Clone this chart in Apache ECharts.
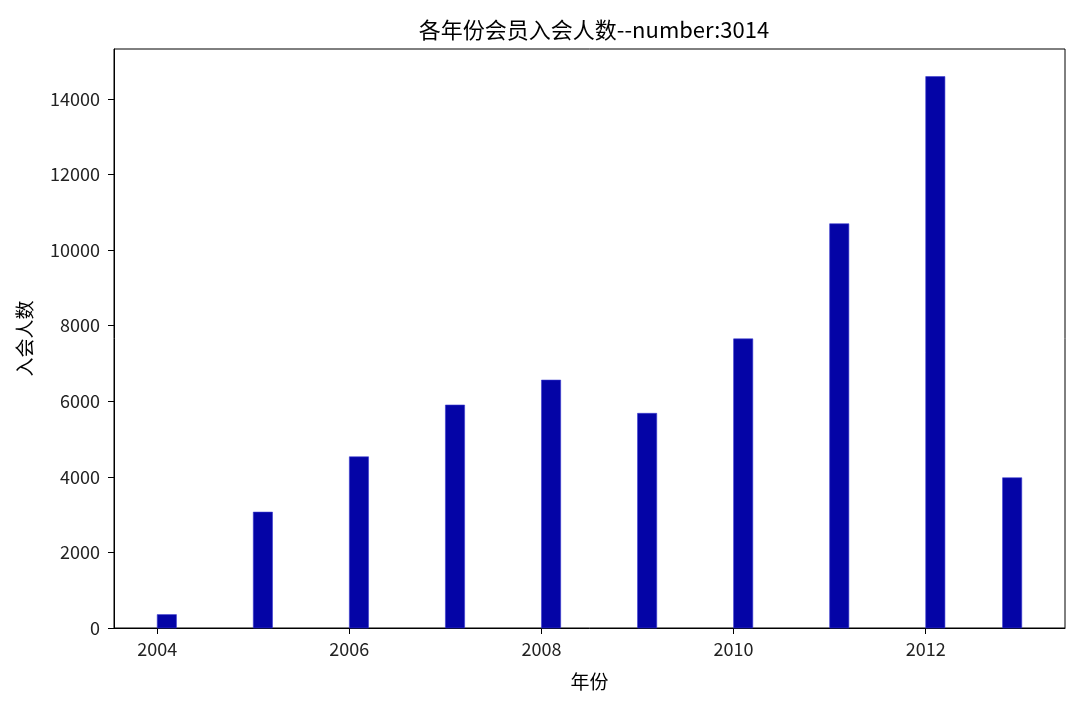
<!DOCTYPE html>
<html>
<head>
<meta charset="utf-8">
<script src="https://cdn.jsdelivr.net/npm/echarts@6/dist/echarts.min.js"></script>
<style>
html,body{margin:0;padding:0;background:#fff;}
#chart{width:1079px;height:704px;}
</style>
</head>
<body>
<div id="chart"></div>
<script>
// Bin start positions (years) and member counts
const binStarts = [2004, 2005, 2006, 2007, 2008, 2009, 2010, 2011, 2012, 2012.8];
const counts = [355, 3066, 4530, 5900, 6560, 5680, 7650, 10696, 14590, 3975];
const xTicks = [2004, 2006, 2008, 2010, 2012];
const yTicks = [0, 2000, 4000, 6000, 8000, 10000, 12000, 14000];
const titleText = '各年份会员入会人数--number:3014';
const xName = '年份';
const yName = '入会人数';

const FONT = '"Noto Sans CJK SC", "DejaVu Sans", sans-serif';
const BAR_W = 0.2;
const barData = binStarts.map((x, i) => [x, counts[i]]);

const chart = echarts.init(document.getElementById('chart'), null, {renderer: 'canvas'});
chart.setOption({
  backgroundColor: '#fff',
  animation: false,
  title: {
    text: titleText,
    left: 589, top: 14, textAlign: 'center',
    textStyle: {fontFamily: FONT, fontSize: 22, fontWeight: 'normal', color: '#000'}
  },
  grid: {
    left: 114, right: 14, top: 49, bottom: 76,
    show: true, borderColor: '#000', borderWidth: 1, backgroundColor: 'transparent'
  },
  xAxis: {
    type: 'value',
    min: 2003.55, max: 2013.45,
    name: xName, nameLocation: 'middle', nameGap: 44,
    nameTextStyle: {fontFamily: FONT, fontSize: 19, color: '#000'},
    axisLine: {show: true, onZero: false, lineStyle: {color: '#000', width: 1}},
    axisTick: {show: true, length: 6, lineStyle: {color: '#000'}, customValues: xTicks},
    axisLabel: {fontFamily: FONT, fontSize: 18, color: '#222', margin: 12, customValues: xTicks,
      formatter: v => String(v)},
    splitLine: {show: false}
  },
  yAxis: {
    type: 'value',
    min: 0, max: v => v.max * 1.05,
    name: yName, nameLocation: 'middle', nameGap: 80, nameRotate: 90,
    nameTextStyle: {fontFamily: FONT, fontSize: 19, color: '#000'},
    axisLine: {show: true, lineStyle: {color: '#000', width: 1}},
    axisTick: {show: true, length: 6, lineStyle: {color: '#000'}, customValues: yTicks},
    axisLabel: {fontFamily: FONT, fontSize: 18, color: '#222', margin: 14, customValues: yTicks,
      formatter: v => String(v)},
    splitLine: {show: false}
  },
  series: [{
    type: 'custom',
    data: barData,
    encode: {x: 0, y: 1},
    renderItem: function (params, api) {
      const x0 = api.value(0);
      const y = api.value(1);
      const p1 = api.coord([x0, y]);
      const p2 = api.coord([x0 + BAR_W, 0]);
      return {
        type: 'rect',
        shape: {x: p1[0], y: p1[1], width: p2[0] - p1[0], height: p2[1] - p1[1]},
        style: {fill: '#0404a6', stroke: '#3a3ad0', lineWidth: 0.6}
      };
    }
  }]
});
</script>
</body>
</html>
